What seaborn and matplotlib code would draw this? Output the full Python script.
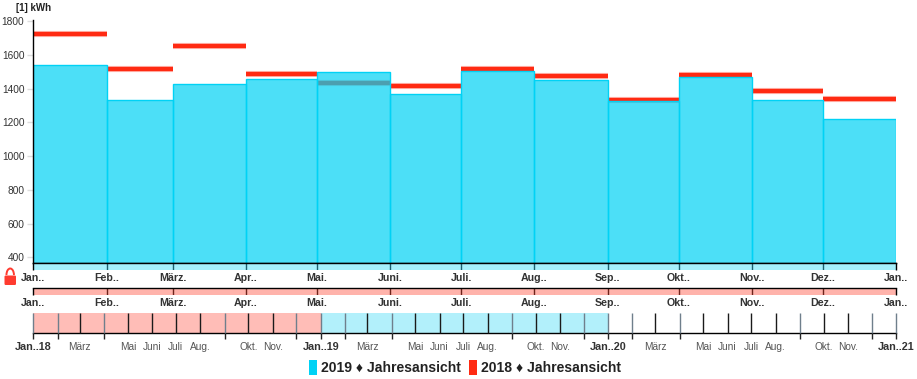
import pandas as pd
import numpy as np
import matplotlib
matplotlib.use('Agg')
import matplotlib.pyplot as plt
import matplotlib.dates as mdates
from matplotlib.patches import Patch, FancyBboxPatch, Arc
import seaborn as sns

W, H = 917, 379

# values
values_2019 = [1538, 1335, 1426, 1458, 1497, 1368, 1505, 1452, 1326, 1469, 1335, 1217]
values_2018 = [1722, 1516, 1652, 1484, 1430, 1414, 1517, 1475, 1333, 1480, 1384, 1339]
month_labels = ['Jan..', 'Feb..', 'März.', 'Apr..', 'Mai.', 'Juni.', 'Juli.', 'Aug..',
                'Sep..', 'Okt..', 'Nov..', 'Dez..', 'Jan..']
y_ticks = [400, 600, 800, 1000, 1200, 1400, 1600, 1800]
# short names for the bottom timeline, empty ones have no label
timeline_names = ['', 'März', '', 'Mai', 'Juni', 'Juli', 'Aug.', '', 'Okt.', 'Nov.', '']
timeline_months = [2, 3, 4, 5, 6, 7, 8, 9, 10, 11, 12]
timeline_years = [2018, 2019, 2020]

CYAN = '#00D2F5'
RED = '#FF2A12'
TEXT = '#333333'
X0, X1 = 33.4, 896.0


def px_axes(fig, x0, y0, x1, y1):
    # axes from pixel positions, y counted from the top
    return fig.add_axes([x0 / W, 1 - y1 / H, (x1 - x0) / W, (y1 - y0) / H])


def strip(fig, y0, y1, color, tick_color, edges, labels):
    ax = px_axes(fig, X0, y0, X1, y1)
    ax.set_facecolor(color)
    ax.set_xlim(edges[0], edges[-1])
    ax.set_ylim(0, 1)
    ax.set_yticks([])
    ax.vlines(edges[1:-1], 0, 1, color=tick_color, lw=1)
    ax.vlines([edges[0], edges[-1]], 0, 1, color='black', lw=1, clip_on=False)
    for s in ['left', 'bottom', 'right']:
        ax.spines[s].set_visible(False)
    ax.spines['top'].set_color('black')
    ax.spines['top'].set_linewidth(1)
    ax.set_xticks(edges)
    ax.set_xticklabels(labels, fontsize=7.7, fontweight='bold', color=TEXT)
    ax.tick_params(axis='x', length=0, pad=2.5)
    return ax


def main():
    sns.set_theme(style='white')
    plt.rcParams['font.family'] = ['Liberation Sans', 'DejaVu Sans']

    edges = mdates.date2num(pd.date_range('2019-01-01', '2020-01-01', freq='MS'))
    mids = (edges[:-1] + edges[1:]) / 2

    fig = plt.figure(figsize=(W / 100, H / 100), dpi=100)

    # main chart
    ax = px_axes(fig, X0, 20, X1, 262.5)
    ax.hlines(values_2018, edges[:-1], edges[1:], color=RED, lw=4.4, alpha=0.4, zorder=1)
    ax.hlines(values_2018, edges[:-1], edges[1:], color=RED, lw=2.9, zorder=1)
    df = pd.DataFrame({'month': mids, 'kwh': values_2019})
    sns.histplot(data=df, x='month', weights='kwh', bins=list(edges), color=CYAN, alpha=0.7,
                 edgecolor=CYAN, linewidth=1, ax=ax, zorder=2)
    ax.set_xlim(edges[0], edges[-1])
    ax.set_ylim(370, 1806)
    ax.set_xlabel('')
    ax.set_ylabel('')
    ax.set_xticks([])
    ax.set_yticks(y_ticks)
    ax.tick_params(axis='y', left=True, length=4, width=1, color='#dddddd', labelsize=7.3,
                   labelcolor=TEXT, pad=2.5)
    sns.despine(ax=ax)
    for s in ['left', 'bottom']:
        ax.spines[s].set_color('black')
        ax.spines[s].set_linewidth(1)
    fig.text(16 / W, 1 - 8 / H, '[1] kWh', fontsize=7, fontweight='bold', color='#222222',
             ha='left', va='center')

    # the two month strips under the chart
    strip(fig, 262.5, 269.5, '#A5F0FC', '#1d5f6e', edges, month_labels)
    strip(fig, 287.5, 294.5, '#FFB3AB', '#6e241c', edges, month_labels)

    # bottom timeline over three years
    tl = px_axes(fig, X0, 313, X1, 332.5)
    t0, t1, t2, t3 = [mdates.date2num(pd.Timestamp(f'{y}-01-01')) for y in timeline_years + [2021]]
    tl.set_xlim(t0, t3)
    tl.set_ylim(0, 1)
    tl.set_yticks([])
    tl.axvspan(t0, t1, color='#FFBDB7', lw=0)
    tl.axvspan(t1, t2, color='#B2F0FB', lw=0)
    for s in ['left', 'top', 'right']:
        tl.spines[s].set_visible(False)
    tl.spines['bottom'].set_color('black')
    tl.spines['bottom'].set_linewidth(1)

    pos, labs, styles = [], [], []
    for y in timeline_years:
        pos.append(mdates.date2num(pd.Timestamp(f'{y}-01-01')))
        labs.append(f'Jan..{y % 100}')
        styles.append('jan')
        for m, name in zip(timeline_months, timeline_names):
            pos.append(mdates.date2num(pd.Timestamp(f'{y}-{m:02d}-01')))
            labs.append(name)
            styles.append('named' if name else 'blank')
    pos.append(t3)
    labs.append('Jan..21')
    styles.append('jan')

    tl.set_xticks(pos)
    tl.set_xticklabels(labs)
    tl.tick_params(axis='x', bottom=True, length=5.5 * 0.72, width=1, pad=3)
    for tick, st in zip(tl.xaxis.get_major_ticks(), styles):
        # only the jan and unnamed months reach below the line
        if st == 'named':
            tick.tick1line.set_visible(False)
        else:
            tick.tick1line.set_color('#8a9aa8')
    for lab, st in zip(tl.get_xticklabels(), styles):
        if st == 'jan':
            lab.set_fontsize(7.8)
            lab.set_fontweight('bold')
            lab.set_color(TEXT)
        else:
            lab.set_fontsize(7.3)
            lab.set_color('#555555')
    for p, st in zip(pos, styles):
        col = '#1a1a1a' if st == 'named' else '#6f7f8c'
        tl.vlines(p, 0, 1, color=col, lw=1, zorder=3, clip_on=False)

    # overlay in pixel units for the lock sign
    over = fig.add_axes([0, 0, 1, 1], facecolor='none')
    over.set_xlim(0, W)
    over.set_ylim(H, 0)
    over.axis('off')
    over.add_patch(FancyBboxPatch((4.5, 275.5), 11.5, 9.5, boxstyle='round,pad=0,rounding_size=1.2',
                                  fc='#FF3B2F', ec='none'))
    over.add_patch(Arc((10.2, 275), 7.5, 13, theta1=180, theta2=360, ec='#FF3B2F', lw=1.4))

    # legend
    handles = [Patch(fc=CYAN, ec='none'), Patch(fc=RED, ec='none')]
    fig.legend(handles, ['2019 ♦ Jahresansicht', '2018 ♦ Jahresansicht'], ncol=2,
               loc='center', bbox_to_anchor=(465 / W, 1 - 367.5 / H), frameon=False,
               prop={'size': 10.05, 'weight': 'bold'}, labelcolor='#222222',
               handlelength=0.58, handleheight=1.25, handletextpad=0.3,
               columnspacing=0.55, borderpad=0, borderaxespad=0)

    fig.savefig('out.png', dpi=100)
    plt.close(fig)


if __name__ == '__main__':
    main()
